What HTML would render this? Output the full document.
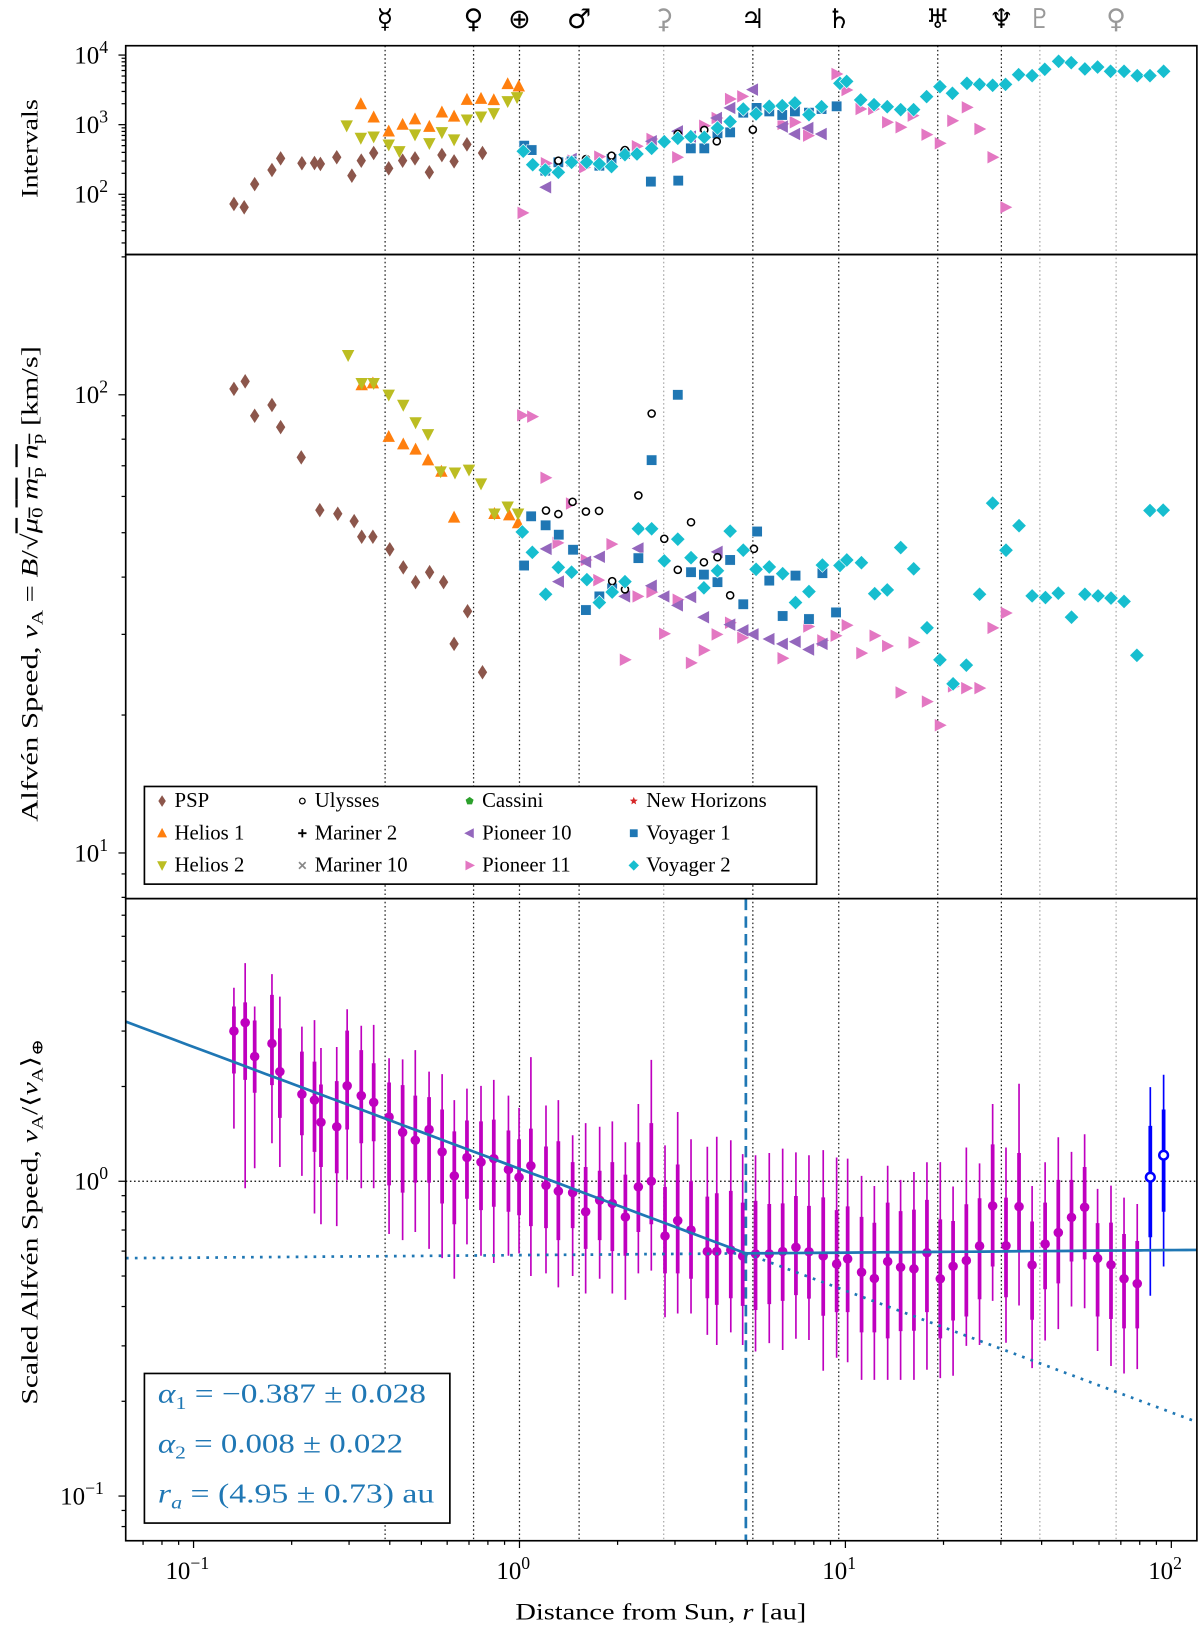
<!DOCTYPE html>
<html><head><meta charset="utf-8"><title>Alfvén speed vs distance</title>
<style>
html,body{margin:0;padding:0;background:#fff;width:1200px;height:1628px;overflow:hidden;}
svg{display:block;font-family:"Liberation Serif","DejaVu Serif",serif;}
</style></head>
<body>
<svg id="chart" xmlns="http://www.w3.org/2000/svg" viewBox="0 0 1155 1567" width="1200" height="1628" preserveAspectRatio="none">
<defs>
<clipPath id="cTop"><rect x="121" y="44" width="1031" height="201"/></clipPath>
<clipPath id="cMid"><rect x="121" y="245" width="1031" height="620"/></clipPath>
<clipPath id="cBot"><rect x="121" y="865" width="1031" height="618"/></clipPath>
</defs>
<g id="gLines"></g>
<g id="gTop" clip-path="url(#cTop)"></g>
<g id="gMid" clip-path="url(#cMid)"></g>
<g id="gBot" clip-path="url(#cBot)"></g>
<g id="gAxes"></g>
<text x="36" y="143" font-size="22" text-anchor="middle" textLength="95" lengthAdjust="spacingAndGlyphs" transform="rotate(-90 36 143)">Intervals</text>
<text x="36" y="562" font-size="22" text-anchor="middle" textLength="458" lengthAdjust="spacingAndGlyphs" transform="rotate(-90 36 562)">Alfvén Speed, <tspan font-style="italic">v</tspan><tspan font-size="15" dy="5">A</tspan><tspan dy="-5"> = </tspan><tspan font-style="italic">B</tspan>/√<tspan text-decoration="overline"><tspan font-style="italic">μ</tspan><tspan font-size="15" dy="5">0</tspan><tspan dy="-5"> </tspan><tspan font-style="italic">m</tspan><tspan font-size="15" dy="5">p</tspan><tspan dy="-5"> </tspan><tspan font-style="italic">n</tspan><tspan font-size="15" dy="5">p</tspan></tspan><tspan dy="-5"> [km/s]</tspan></text>
<text x="36" y="1176" font-size="22" text-anchor="middle" textLength="352" lengthAdjust="spacingAndGlyphs" transform="rotate(-90 36 1176)">Scaled Alfvén Speed, <tspan font-style="italic">v</tspan><tspan font-size="15" dy="5">A</tspan><tspan dy="-5">/⟨</tspan><tspan font-style="italic">v</tspan><tspan font-size="15" dy="5">A</tspan><tspan dy="-5">⟩</tspan><tspan font-size="15" dy="5">⊕</tspan></text>
<text x="636" y="1559" font-size="22" text-anchor="middle" textLength="280" lengthAdjust="spacingAndGlyphs">Distance from Sun, <tspan font-style="italic">r</tspan> [au]</text>
<g>
<rect x="139" y="1322" width="294" height="144" fill="#fff" stroke="#000" stroke-width="1.6"/>
<text x="152" y="1350" font-size="26" fill="#1f77b4" textLength="258" lengthAdjust="spacingAndGlyphs"><tspan font-style="italic">α</tspan><tspan font-size="17" dy="6">1</tspan><tspan dy="-6"> = −0.387 ± 0.028</tspan></text>
<text x="152" y="1398" font-size="26" fill="#1f77b4" textLength="236" lengthAdjust="spacingAndGlyphs"><tspan font-style="italic">α</tspan><tspan font-size="17" dy="6">2</tspan><tspan dy="-6"> = 0.008 ± 0.022</tspan></text>
<text x="152" y="1446" font-size="26" fill="#1f77b4" textLength="266" lengthAdjust="spacingAndGlyphs"><tspan font-style="italic">r</tspan><tspan font-size="17" dy="6" font-style="italic">a</tspan><tspan dy="-6"> = (4.95 ± 0.73) au</tspan></text>
</g>
<g id="gLegend"></g>
</svg>
<script>
// ---------- data ----------
const planetR = [0.387,0.723,1,1.524,2.77,5.2,9.54,19.2,30.1,39.5,67.7];
const planetSym = ["☿","♀","⊕","♂","⚳","♃","♄","♅","♆","♇","♀"];
const planetNames = ["mercury","venus","earth","mars","ceres","jupiter","saturn","uranus","neptune","pluto","eris"];
const planetMinor = [false,false,false,false,true,false,false,false,false,true,true];

const pspTopR = [0.133,0.143,0.154,0.174,0.185,0.215,0.235,0.245,0.275,0.306,0.327,0.357,0.397,0.438,0.478,0.529,0.578,0.630,0.690,0.770];
const pspTopV = [72.6,65,140,223,328,279,281,273,340,185,304,392,236,304,328,207,366,297,522,392];
const pspMidR = [0.133,0.144,0.154,0.174,0.185,0.214,0.244,0.277,0.311,0.328,0.355,0.40,0.44,0.48,0.53,0.585,0.63,0.693,0.77];
const pspMidV = [103,107,90,95,85,73,56,55,53,49,49,46,42,39,41,39,28.6,33.7,24.8];

const h1TopR = [0.326,0.357,0.397,0.438,0.478,0.529,0.578,0.63,0.69,0.762,0.834,0.92,0.995];
const h1TopV = [1980,1277,802,1002,1200,937,1506,1316,2290,2366,2265,3846,3565];
const h1MidR = [0.328,0.355,0.397,0.44,0.48,0.524,0.576,0.63,0.838,0.93,0.99];
const h1MidV = [105,106,81,78,76,72,68,54,55,54.6,52.5];

const h2TopR = [0.295,0.326,0.357,0.397,0.428,0.478,0.529,0.578,0.63,0.69,0.762,0.834,0.92,0.983];
const h2TopV = [970,644,673,516,415,720,540,776,610,1180,1303,1455,2166,2472];
const h2MidR = [0.298,0.328,0.357,0.397,0.44,0.48,0.524,0.573,0.634,0.70,0.762,0.838,0.92,0.99];
const h2MidV = [122,106,106,100,95,87,82,68,67.6,68.6,64,55,57,55];

const ulyTopR = [1.316,1.6,1.916,2.107,3.06,3.69,4.03,5.2];
const ulyTopV = [304,321,359,432,735,839,577,848];
const ulyMidR = [1.206,1.316,1.455,1.599,1.754,1.925,2.107,2.316,2.544,2.781,3.06,3.36,3.68,4.05,4.43,5.24];
const ulyMidV = [55.9,54.9,58.4,55.6,55.8,39.2,37.6,60.3,91,48.5,41.5,52.7,43.1,44.2,36.5,46.1];

const p10TopR = [1.206,1.445,2.544,3.06,3.355,4.03,4.43,5.2,6.42,7.0,7.69,8.45];
const p10TopV = [126,321,577,803,673,1247,1740,3185,936,735,895,735];
const p10MidR = [1.21,1.32,1.599,1.763,2.107,2.316,2.544,2.781,3.06,3.36,3.68,4.05,4.43,4.86,5.22,5.84,6.42,7.03,7.73,8.5];
const p10MidV = [46.1,39.1,43.2,44.3,36.3,46.2,38.3,36.3,34.7,36.2,32.7,45.4,31.5,30.6,30,29.3,28.6,28.9,27.8,28.6];

const p11TopR = [1.023,1.206,1.456,1.58,1.758,2.294,2.544,3.05,3.69,4.03,4.43,4.83,6.42,7.0,7.69,9.4,10.09,11.14,12.18,13.44,14.78,16.1,17.75,19.5,21.3,23.6,25.8,28.3,31.0];
const p11TopV = [54,279,304,244,347,490,622,340,966,1247,2339,2550,1025,1082,695,5350,3150,1679,1679,1082,918,1349,720,540,1140,1775,866,340,65];
const p11MidR = [1.02,1.095,1.203,1.44,1.31,1.599,1.747,1.917,2.107,2.305,2.544,2.781,3.06,3.36,3.68,4.03,4.43,4.83,6.42,7.7,8.5,9.34,10.1,11.2,12.3,13.44,14.78,16.2,17.8,19.5,21.4,23.5,25.8,28.3,31.1];
const p11MidV = [90.2,89.6,65.9,57.9,47.5,43.6,39.4,47.2,26.4,36.3,37.1,30.1,35.7,26,27.7,30,31.8,29.5,26.6,31.2,29.1,29.8,31.4,27.3,29.8,28.3,22.4,28.8,21.4,19,23.1,22.9,22.9,31,33.4];

const v1TopR = [1.034,1.09,1.20,1.316,1.445,1.758,1.916,2.107,2.53,3.07,3.355,3.69,4.05,4.43,4.86,5.34,5.84,6.40,7.0,7.73,8.45,9.4];
const v1TopV = [499,432,218,288,297,257,321,379,152,157,457,457,752,776,1486,1740,1552,1378,1552,1486,1679,1836];
const v1MidR = [1.086,1.203,1.32,1.46,1.033,1.599,1.758,1.925,2.316,2.544,3.06,3.36,3.68,4.05,4.43,4.86,5.36,5.84,6.42,7.03,7.73,8.5,9.36];
const v1MidV = [54.3,51.9,49.5,45.9,42.4,33.9,36.3,37.8,44,72,100,41,40.5,39,43.6,34.9,50.3,39.3,32.9,40.3,32.4,40.8,33.5];

const v2TopR = [1.027,1.098,1.20,1.316,1.445,1.608,1.758,1.916,2.107,2.294,2.544,2.781,3.06,3.355,3.69,4.05,4.43,4.86,5.32,5.84,6.40,7.0,7.73,8.45,9.62,10.09,11.14,12.24,13.44,14.78,16.19,17.75,19.5,21.3,23.6,25.8,28.3,31.0,34.0,37.4,40.9,45.1,49.3,54.3,59.4,65.1,71.6,78.6,86,94.7];
const v2TopV = [415,266,223,207,288,288,273,250,371,379,457,569,637,673,658,895,1105,1679,1425,1836,1875,2051,1390,1811,3925,4188,2265,1941,1811,1644,1644,2529,3516,2825,3925,3793,3681,3793,5224,5060,6250,8130,7780,6310,6730,5840,5840,5060,5060,5840];
const v2MidR = [1.02,1.095,1.203,1.316,1.445,1.61,1.758,1.925,2.107,2.316,2.544,2.781,3.06,3.36,3.68,4.05,4.43,4.86,5.32,5.84,6.42,7.03,7.73,8.5,9.62,10.1,11.2,12.3,13.44,14.78,16.2,17.8,19.5,21.4,23.5,25.8,28.3,31.1,34.1,37.4,41.1,45,49.4,54.3,59.6,65.3,71.6,78.4,86,94.4];
const v2MidV = [50.2,45.3,36.7,42,41,39.5,35.2,37.1,39.1,51,51,43.4,48.4,44.1,37.9,41.3,50.4,45.8,41.6,42.1,40.7,35.2,37.2,42.5,42.4,43.6,43,36.8,37.5,46.4,41.7,31,26.4,23.4,25.7,36.7,58,45.8,51.8,36.4,36.1,36.9,32.7,36.7,36.4,36,35.4,27,55.9,56];

const binR = [0.133,0.144,0.154,0.174,0.184,0.215,0.235,0.246,0.275,0.296,0.327,0.357,0.398,0.438,0.479,0.528,0.579,0.631,0.690,0.762,0.834,0.925,0.997,1.084,1.206,1.316,1.456,1.596,1.762,1.927,2.113,2.316,2.538,2.796,3.058,3.36,3.77,4.03,4.45,4.84,5.30,5.84,6.42,7.05,7.73,8.55,9.40,10.16,11.21,12.27,13.48,14.77,16.23,17.79,19.55,21.4,23.5,25.8,28.3,31.1,34.1,37.4,41.0,45.0,49.4,54.2,59.4,65.3,71.6,78.6];
const binV = [3.00,3.19,2.49,2.74,2.23,1.89,1.81,1.54,1.49,2.01,1.87,1.78,1.60,1.43,1.35,1.46,1.24,1.04,1.19,1.15,1.18,1.09,1.03,1.12,0.97,0.93,0.92,0.80,0.87,0.85,0.77,0.96,1.00,0.67,0.75,0.70,0.598,0.598,0.605,0.579,0.588,0.588,0.598,0.617,0.597,0.579,0.546,0.567,0.514,0.491,0.556,0.533,0.527,0.593,0.490,0.537,0.56,0.623,0.835,0.624,0.831,0.542,0.632,0.687,0.768,0.827,0.569,0.543,0.490,0.473];
const binThickHi = [3.59,3.70,3.24,3.91,3.06,2.58,2.40,2.03,2.08,3.01,2.61,2.37,2.06,2.02,1.87,1.85,1.69,1.44,1.56,1.55,1.57,1.45,1.36,1.47,1.29,1.34,1.15,1.11,1.08,1.15,1.05,1.33,1.53,0.96,1.13,1.00,0.894,0.916,0.932,0.855,0.866,0.847,0.851,0.898,0.835,0.889,0.81,0.832,0.771,0.738,0.855,0.804,0.813,0.873,0.757,0.748,0.845,0.883,1.31,0.887,1.23,0.745,0.855,1.01,1.01,1.11,0.736,0.739,0.68,0.646];
const binThickLo = [2.20,2.10,1.91,2.02,1.59,1.40,1.24,1.11,1.06,1.46,1.32,1.34,0.97,0.92,0.99,0.99,0.85,0.73,0.88,0.81,0.83,0.80,0.78,0.72,0.71,0.65,0.71,0.61,0.65,0.60,0.58,0.69,0.73,0.51,0.51,0.49,0.425,0.405,0.425,0.402,0.39,0.407,0.417,0.435,0.424,0.374,0.384,0.384,0.331,0.331,0.317,0.334,0.335,0.384,0.317,0.361,0.372,0.422,0.536,0.428,0.598,0.363,0.454,0.474,0.556,0.565,0.372,0.365,0.341,0.341];
const binThinHi = [4.12,4.93,3.59,4.55,3.86,3.10,3.25,2.65,2.67,3.52,3.12,3.14,2.46,2.44,2.61,2.23,2.19,1.81,1.97,2.01,2.10,1.87,1.71,2.48,1.74,1.81,1.40,1.53,1.49,1.55,1.33,1.76,2.43,1.30,1.66,1.36,1.287,1.385,1.35,1.22,1.21,1.23,1.27,1.235,1.21,1.256,1.19,1.18,1.04,0.966,1.12,1.01,1.07,1.149,1.15,0.962,1.28,1.14,1.76,1.28,2.04,0.966,1.149,1.38,1.24,1.41,0.946,0.969,0.887,0.847];
const binThinLo = [1.47,0.95,1.10,1.32,1.11,1.04,0.79,0.73,0.72,1.01,0.95,0.95,0.68,0.65,0.69,0.61,0.57,0.49,0.63,0.58,0.55,0.58,0.59,0.50,0.51,0.46,0.50,0.44,0.49,0.44,0.42,0.51,0.52,0.37,0.38,0.38,0.325,0.302,0.331,0.302,0.288,0.306,0.291,0.316,0.313,0.25,0.275,0.266,0.234,0.234,0.234,0.234,0.234,0.252,0.237,0.241,0.30,0.302,0.417,0.307,0.403,0.255,0.312,0.339,0.40,0.395,0.289,0.259,0.245,0.253];
const outerR = [86.2,94.7];
const outerV = [1.03,1.21];
const outerThickHi = [1.50,1.69];
const outerThickLo = [0.664,0.80];
const outerThinHi = [1.99,2.18];
const outerThinLo = [0.433,0.536];

const fitAlpha1 = -0.387;
const fitAlpha2 = 0.008;
const fitBreakR = 4.95;
const fitBreakV = 0.59;

const xTickVals = [0.1,1,10,100];
const xTickExp = ["−1","0","1","2"];
const topTickVals = [100,1000,10000];
const topTickExp = ["2","3","4"];
const midTickVals = [10,100];
const midTickExp = ["1","2"];
const botTickVals = [0.1,1];
const botTickExp = ["−1","0"];

// ---------- scales ----------
const NS = "http://www.w3.org/2000/svg";
const L = 121, R = 1152;
const xS = r => 500 + 313.7 * Math.log10(r);
const yTop = v => 187 - 67 * (Math.log10(v) - 2);
const yMid = v => 380 - 441 * (Math.log10(v) - 2);
const yBot = v => 1137 - 303 * Math.log10(v);

function mk(tag, attrs, parent) {
  const e = document.createElementNS(NS, tag);
  for (const k in attrs) e.setAttribute(k, attrs[k]);
  parent.appendChild(e);
  return e;
}
const gLines = document.getElementById("gLines");
const gTop = document.getElementById("gTop");
const gMid = document.getElementById("gMid");
const gBot = document.getElementById("gBot");
const gAxes = document.getElementById("gAxes");
const gLegend = document.getElementById("gLegend");

// ---------- planet lines ----------
planetR.forEach((r, i) => {
  const x = xS(r);
  const ln = mk("line", {x1:x, x2:x, y1:44, y2:1483, stroke: planetMinor[i] ? "#aaa" : "#222", "stroke-width":1.2, "stroke-dasharray":"1.5,2.5"}, gLines);
  
  
  const t = mk("text", {x:x, y:27, "text-anchor":"middle", "font-size":26, fill: planetMinor[i] ? "#999" : "#000", "font-family":"DejaVu Sans, sans-serif"}, gAxes);
  t.textContent = planetSym[i];
  
  
});

// ---------- markers ----------
function marker(kind, x, y, color, parent) {
  let e;
  if (kind === "thinDiamond") e = mk("polygon", {points:`${x},${y-7} ${x+4.5},${y} ${x},${y+7} ${x-4.5},${y}`, fill:color}, parent);
  else if (kind === "diamond") e = mk("polygon", {points:`${x},${y-7} ${x+7},${y} ${x},${y+7} ${x-7},${y}`, fill:color, stroke:"#fff", "stroke-width":0.6}, parent);
  else if (kind === "up") e = mk("polygon", {points:`${x},${y-6.5} ${x+6},${y+5} ${x-6},${y+5}`, fill:color}, parent);
  else if (kind === "down") e = mk("polygon", {points:`${x},${y+6.5} ${x+6},${y-5} ${x-6},${y-5}`, fill:color}, parent);
  else if (kind === "left") e = mk("polygon", {points:`${x-6.5},${y} ${x+5},${y-6} ${x+5},${y+6}`, fill:color}, parent);
  else if (kind === "right") e = mk("polygon", {points:`${x+6.5},${y} ${x-5},${y-6} ${x-5},${y+6}`, fill:color}, parent);
  else if (kind === "square") e = mk("rect", {x:x-5, y:y-5, width:10, height:10, fill:color, stroke:"#fff", "stroke-width":0.5}, parent);
  else if (kind === "circle") e = mk("circle", {cx:x, cy:y, r:3.4, fill:"#fff", stroke:color, "stroke-width":1.5}, parent);
  else if (kind === "plus") { e = mk("path", {d:`M${x-5},${y}H${x+5}M${x},${y-5}V${y+5}`, stroke:color, "stroke-width":2.2}, parent); }
  else if (kind === "cross") { e = mk("path", {d:`M${x-4},${y-4}L${x+4},${y+4}M${x-4},${y+4}L${x+4},${y-4}`, stroke:color, "stroke-width":2}, parent); }
  else if (kind === "pentagon") {
    let p = []; for (let k = 0; k < 5; k++) { const a = -Math.PI/2 + k*2*Math.PI/5; p.push((x+5*Math.cos(a)).toFixed(1)+","+(y+5*Math.sin(a)).toFixed(1)); }
    e = mk("polygon", {points:p.join(" "), fill:color}, parent);
  } else if (kind === "star") {
    let p = []; for (let k = 0; k < 10; k++) { const a = -Math.PI/2 + k*Math.PI/5; const rr = k%2 ? 2.2 : 5; p.push((x+rr*Math.cos(a)).toFixed(1)+","+(y+rr*Math.sin(a)).toFixed(1)); }
    e = mk("polygon", {points:p.join(" "), fill:color}, parent);
  }
  return e;
}

const series = [
  {name:"psp", kind:"thinDiamond", color:"#8c564b", tr:pspTopR, tv:pspTopV, mr:pspMidR, mv:pspMidV},
  {name:"helios-1", kind:"up", color:"#ff7f0e", tr:h1TopR, tv:h1TopV, mr:h1MidR, mv:h1MidV},
  {name:"helios-2", kind:"down", color:"#bcbd22", tr:h2TopR, tv:h2TopV, mr:h2MidR, mv:h2MidV},
  {name:"pioneer-11", kind:"right", color:"#e377c2", tr:p11TopR, tv:p11TopV, mr:p11MidR, mv:p11MidV},
  {name:"pioneer-10", kind:"left", color:"#9467bd", tr:p10TopR, tv:p10TopV, mr:p10MidR, mv:p10MidV},
  {name:"voyager-1", kind:"square", color:"#1f77b4", tr:v1TopR, tv:v1TopV, mr:v1MidR, mv:v1MidV},
  {name:"ulysses", kind:"circle", color:"#000", tr:ulyTopR, tv:ulyTopV, mr:ulyMidR, mv:ulyMidV},
  {name:"voyager-2", kind:"diamond", color:"#17becf", tr:v2TopR, tv:v2TopV, mr:v2MidR, mv:v2MidV}
];
series.forEach(s => {
  s.tr.forEach((r, i) => {
    const m = marker(s.kind, xS(r), yTop(s.tv[i]), s.color, gTop);
    
    
  });
  s.mr.forEach((r, i) => {
    const m = marker(s.kind, xS(r), yMid(s.mv[i]), s.color, gMid);
    
    
  });
});

// ---------- bottom panel ----------
const h1 = mk("line", {x1:L, x2:R, y1:yBot(1), y2:yBot(1), stroke:"#000", "stroke-width":1.2, "stroke-dasharray":"1.5,2.5"}, gBot);



function errBars(rArr, vArr, tHi, tLo, nHi, nLo, color, filled, name) {
  rArr.forEach((r, i) => {
    const x = xS(r), v = vArr[i];
    const thin = mk("line", {x1:x, x2:x, y1:yBot(nHi[i]), y2:yBot(nLo[i]), stroke:color, "stroke-width":1.6}, gBot);
    
    
    const thick = mk("line", {x1:x, x2:x, y1:yBot(tHi[i]), y2:yBot(tLo[i]), stroke:color, "stroke-width":3.6}, gBot);
    
    
    const c = mk("circle", filled ? {cx:x, cy:yBot(v), r:4.6, fill:color} : {cx:x, cy:yBot(v), r:4.2, fill:"#fff", stroke:color, "stroke-width":2.4}, gBot);
    
    
  });
}
errBars(binR, binV, binThickHi, binThickLo, binThinHi, binThinLo, "#bf00bf", true, 'binned-speed');
errBars(outerR, outerV, outerThickHi, outerThickLo, outerThinHi, outerThinLo, "#0000ff", false, 'outer-heliosphere');

// fit
const fitA = r => fitBreakV * Math.pow(r / fitBreakR, fitAlpha1);
const fitB = r => fitBreakV * Math.pow(r / fitBreakR, fitAlpha2);
function pathFn(fn, r0, r1) {
  let d = "";
  for (let k = 0; k <= 40; k++) { const r = Math.pow(10, Math.log10(r0) + k*(Math.log10(r1)-Math.log10(r0))/40); d += (k ? "L" : "M") + xS(r).toFixed(1) + "," + yBot(fn(r)).toFixed(1); }
  return d;
}
const rMin = 0.062, rMax = 120;
const dotA = mk("path", {d:pathFn(fitA, fitBreakR, rMax), fill:"none", stroke:"#1f77b4", "stroke-width":2.6, "stroke-dasharray":"2.6,6"}, gBot);


const dotB = mk("path", {d:pathFn(fitB, rMin, fitBreakR), fill:"none", stroke:"#1f77b4", "stroke-width":2.6, "stroke-dasharray":"2.6,6"}, gBot);


const solid = mk("path", {d:pathFn(fitA, rMin, fitBreakR) + pathFn(fitB, fitBreakR, rMax).replace("M","L"), fill:"none", stroke:"#1f77b4", "stroke-width":2.6}, gBot);


const brk = mk("line", {x1:xS(fitBreakR), x2:xS(fitBreakR), y1:865, y2:1483, stroke:"#1f77b4", "stroke-width":2.6, "stroke-dasharray":"11,6"}, gBot);



// ---------- frames & ticks ----------
[[44,245,"intervals-frame"],[245,865,"speed-frame"],[865,1483,"scaled-frame"]].forEach(p => {
  const f = mk("rect", {x:L, y:p[0], width:R-L, height:p[1]-p[0], fill:"none", stroke:"#000", "stroke-width":1.6}, gAxes);
  
  
});

function tickLabel(x, y, exp, anchor, parent, name) {
  const t = mk("text", {x:x, y:y, "text-anchor":anchor, "font-size":24}, parent);
  t.textContent = "10";
  const s = mk("tspan", {dy:-10, "font-size":17}, t);
  s.textContent = exp;
  
  
}
for (let d = -2; d <= 2; d++) {
  for (let m = 1; m <= 9; m++) {
    const r = m * Math.pow(10, d); const x = xS(r);
    if (x < L || x > R) continue;
    const tk = mk("line", {x1:x, x2:x, y1:1483, y2:1483 + (m === 1 ? 7 : 4), stroke:"#000", "stroke-width":1.2}, gAxes);
    
    
  }
}
xTickVals.forEach((v, i) => tickLabel(xS(v) - 6, 1520, xTickExp[i], "middle", gAxes, 'x-tick-label'));

function yTicks(fn, y0, y1, vals, exps, name) {
  for (let d = -3; d <= 5; d++) {
    for (let m = 1; m <= 9; m++) {
      const y = fn(m * Math.pow(10, d));
      if (y < y0 || y > y1) continue;
      const tk = mk("line", {x1:L, x2:L - (m === 1 ? 7 : 4), y1:y, y2:y, stroke:"#000", "stroke-width":1.2}, gAxes);
      
      
    }
  }
  vals.forEach((v, i) => tickLabel(112 - (exps[i].length > 1 ? 12 : 8), fn(v) + 8, exps[i], "end", gAxes, name + '-tick-label'));
}
yTicks(yTop, 44, 245, topTickVals, topTickExp, 'intervals-y');
yTicks(yMid, 245, 865, midTickVals, midTickExp, 'speed-y');
yTicks(yBot, 865, 1483, botTickVals, botTickExp, 'scaled-y');

// ---------- legend ----------
const lg = mk("rect", {x:139, y:757, width:647, height:94, fill:"#fff", stroke:"#000", "stroke-width":1.6}, gLegend);


const legendItems = [
  ["PSP","thinDiamond","#8c564b",0,0],["Ulysses","circle","#000",1,0],["Cassini","pentagon","#2ca02c",2,0],["New Horizons","star","#d62728",3,0],
  ["Helios 1","up","#ff7f0e",0,1],["Mariner 2","plus","#000",1,1],["Pioneer 10","left","#9467bd",2,1],["Voyager 1","square","#1f77b4",3,1],
  ["Helios 2","down","#bcbd22",0,2],["Mariner 10","cross","#888",1,2],["Pioneer 11","right","#e377c2",2,2],["Voyager 2","diamond","#17becf",3,2]
];
const colX = [156, 291, 452, 610];
legendItems.forEach(it => {
  const x = colX[it[3]], y = 771 + it[4] * 31;
  const g = mk("g", {}, gLegend);
  
  
  const sc = it[1] === "diamond" ? 0.75 : 0.8;
  const m = marker(it[1], 0, 0, it[2], g);
  m.setAttribute("transform", `translate(${x},${y}) scale(${sc})`);
  const t = mk("text", {x:x + 12, y:y + 6, "font-size":20}, g);
  t.textContent = it[0];
});
</script>
</body></html>
